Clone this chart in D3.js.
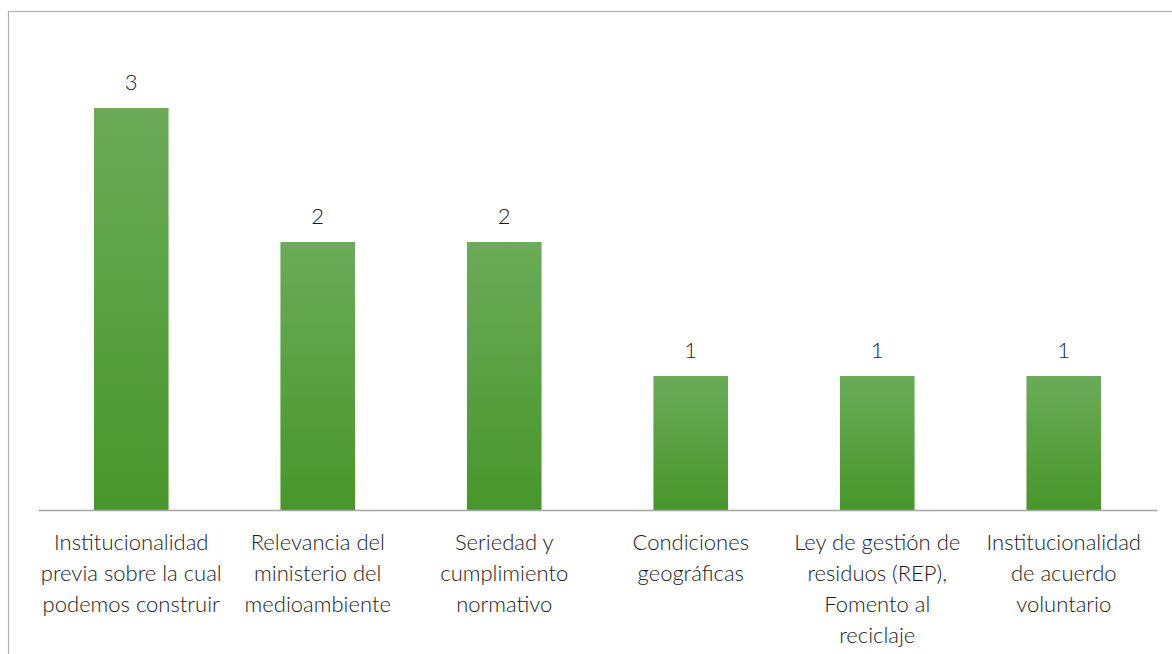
<!DOCTYPE html>
<html>
<head>
<meta charset="utf-8">
<script src="https://cdn.jsdelivr.net/npm/d3@7"></script>
<style>
  body { margin: 0; background: #fff; }
  svg text { font-family: Lato, "Open Sans", sans-serif; font-weight: 300; fill: #1a1a1a; }
</style>
</head>
<body>
<div id="chart"></div>
<script>
const categories = ["c1", "c2", "c3", "c4", "c5", "c6"];
const values = [3, 2, 2, 1, 1, 1];
const tickLabels = [
  ["Institucionalidad", "previa sobre la cual", "podemos construir"],
  ["Relevancia del", "ministerio del", "medioambiente"],
  ["Seriedad y", "cumplimiento", "normativo"],
  ["Condiciones", "geográficas"],
  ["Ley de gestión de", "residuos (REP),", "Fomento al", "reciclaje"],
  ["Institucionalidad", "de acuerdo", "voluntario"]
];

const WIDTH = 1172;
const HEIGHT = 654;

const svg = d3.select("#chart")
  .append("svg")
    .attr("width", WIDTH)
    .attr("height", HEIGHT)

// chart border (runs off the right and bottom edges)
svg.append("rect")
  .attr("x", 8.5).attr("y", 11.5)
  .attr("width", WIDTH).attr("height", HEIGHT)
  .attr("fill", "none")
  .attr("stroke", "#b0b0b0")
  .attr("stroke-width", 1.2)

const grad = svg.append("defs").append("linearGradient")
  .attr("id", "barGrad")
  .attr("x1", 0).attr("y1", 0).attr("x2", 0).attr("y2", 1)
grad.append("stop").attr("offset", "0%").attr("stop-color", "#6bab59")
grad.append("stop").attr("offset", "100%").attr("stop-color", "#48962b")

const x = d3.scaleBand()
  .domain(categories)
  .range([38, 1157])
  .paddingInner(0.6)
  .paddingOuter(0.3)

const y = d3.scaleLinear()
  .domain([0, 3])
  .range([510, 108])

svg.selectAll("rect.bar")
  .data(values)
  .enter()
  .append("rect")
    .attr("class", "bar")
    .attr("x", (d, i) => x(categories[i]))
    .attr("y", d => y(d))
    .attr("width", x.bandwidth())
    .attr("height", d => y(0) - y(d))
    .attr("fill", "url(#barGrad)")

svg.selectAll("text.val")
  .data(values)
  .enter()
  .append("text")
    .attr("class", "val")
    .attr("x", (d, i) => x(categories[i]) + x.bandwidth() / 2)
    .attr("y", d => y(d) - 18)
    .attr("text-anchor", "middle")
    .attr("font-size", 22)
    .text(d => d)

const xAxis = svg.append("g")
  .attr("transform", `translate(0,${y(0)})`)
  .call(d3.axisBottom(x).tickSize(0).tickFormat(""))
xAxis.select(".domain").attr("stroke", "#a6a6a6").attr("stroke-width", 1.5)

const labels = svg.selectAll("text.cat")
  .data(tickLabels)
  .enter()
  .append("text")
    .attr("class", "cat")
    .attr("text-anchor", "middle")
    .attr("font-size", 22)
    .attr("x", (d, i) => x(categories[i]) + x.bandwidth() / 2)
    .attr("y", 550)

labels.selectAll("tspan")
  .data(d => d)
  .enter()
  .append("tspan")
    .attr("x", function() { return this.parentNode.getAttribute("x") })
    .attr("dy", (d, i) => i === 0 ? 0 : 31)
    .text(d => d)
</script>
</body>
</html>
